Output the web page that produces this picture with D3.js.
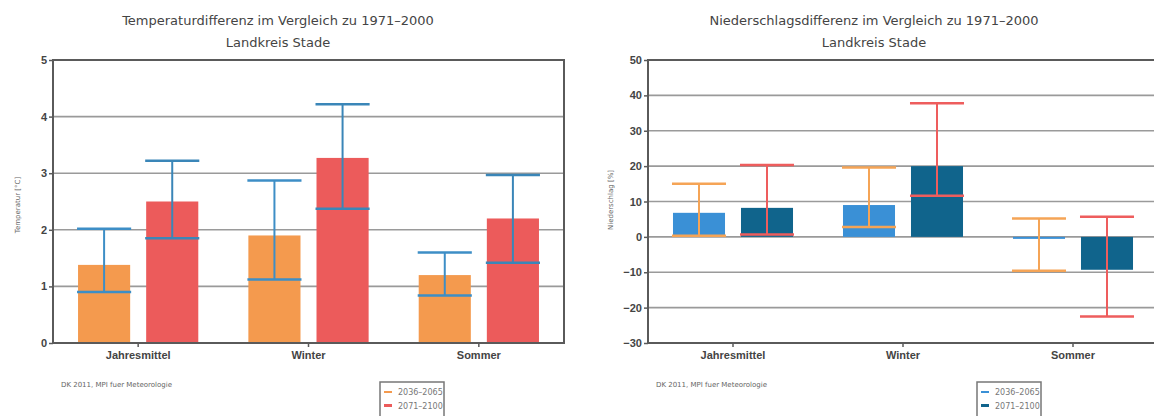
<!DOCTYPE html>
<html>

<head>
  <meta charset="utf-8">
  <script src="https://d3js.org/d3.v7.min.js"></script>
  <style>
    body {
      margin: 0;
      background: #fff;
      font-family: "DejaVu Sans", sans-serif;
    }

    .title {
      font-size: 13px;
      fill: #444;
    }

    .tick text {
      font-size: 11px;
      font-weight: bold;
      fill: #444;
    }

    .small {
      font-size: 7px;
      fill: #666;
    }

    .legend text {
      font-size: 8px;
      fill: #777;
    }
  </style>
</head>

<body>
  <div id="chart"></div>
  <script>
    var categories = ["Jahresmittel", "Winter", "Sommer"];
    var periods = ["2036–2065", "2071–2100"];

    // Temperature difference [°C]
    var tempMean2036 = [1.38, 1.9, 1.2];
    var tempLow2036 = [0.9, 1.12, 0.84];
    var tempHigh2036 = [2.02, 2.87, 1.6];
    var tempMean2071 = [2.5, 3.27, 2.2];
    var tempLow2071 = [1.85, 2.37, 1.42];
    var tempHigh2071 = [3.22, 4.22, 2.97];
    var tempTicks = [0, 1, 2, 3, 4, 5];

    // Precipitation difference [%]
    var precMean2036 = [6.8, 9, -0.4];
    var precLow2036 = [0.3, 2.8, -9.6];
    var precHigh2036 = [15, 19.6, 5.2];
    var precMean2071 = [8.2, 20, -9.3];
    var precLow2071 = [0.7, 11.6, -22.5];
    var precHigh2071 = [20.3, 37.8, 5.7];
    var precTicks = [-30, -20, -10, 0, 10, 20, 30, 40, 50];

    var svg = d3.select("#chart").append("svg")
      .attr("width", 1154)
      .attr("height", 416);

    function rows(mean, low, high) {
      return categories.map((c, i) => ({ cat: c, mean: mean[i], low: low[i], high: high[i] }));
    }

    function drawChart(opts) {
      var g = svg.append("g");
      var x = d3.scaleBand().domain(categories).range([opts.left, opts.right]);
      var bw = x.bandwidth();
      var xs = d3.scaleBand().domain(periods)
        .range([bw / 2 - bw * 0.353, bw / 2 + bw * 0.353])
        .paddingInner(0.235);
      var y = d3.scaleLinear().domain(opts.domain).range([343, 60]);

      // titles
      opts.title.forEach((t, i) => {
        g.append("text").attr("class", "title")
          .attr("x", opts.titleX).attr("y", 25 + i * 22)
          .attr("text-anchor", "middle").text(t);
      });

      // grid
      g.append("g").selectAll("line").data(opts.ticks).join("line")
        .attr("x1", opts.left).attr("x2", opts.right)
        .attr("y1", d => y(d)).attr("y2", d => y(d))
        .attr("stroke", "#9a9a9a").attr("stroke-width", 1.6);

      // bars and whiskers
      opts.series.forEach((s, si) => {
        var data = s.data;
        var sg = g.append("g");
        sg.selectAll("rect").data(data).join("rect")
          .attr("x", d => x(d.cat) + xs(periods[si]))
          .attr("width", xs.bandwidth())
          .attr("y", d => Math.min(y(d.mean), y(0)))
          .attr("height", d => Math.max(Math.abs(y(d.mean) - y(0)), 2))
          .attr("fill", s.fill);
        var cx = d => x(d.cat) + xs(periods[si]) + xs.bandwidth() / 2;
        var hw = xs.bandwidth() / 2 + 1;
        sg.selectAll(".stem").data(data).join("line").attr("class", "stem")
          .attr("x1", cx).attr("x2", cx)
          .attr("y1", d => y(d.low)).attr("y2", d => y(d.high))
          .attr("stroke", s.err).attr("stroke-width", 2);
        ["low", "high"].forEach(k => {
          sg.selectAll(".cap-" + k).data(data).join("line").attr("class", "cap-" + k)
            .attr("x1", d => cx(d) - hw).attr("x2", d => cx(d) + hw)
            .attr("y1", d => y(d[k])).attr("y2", d => y(d[k]))
            .attr("stroke", s.err).attr("stroke-width", 2.5);
        });
      });

      // frame
      g.append("rect")
        .attr("x", opts.left).attr("y", 60)
        .attr("width", opts.right - opts.left).attr("height", 283)
        .attr("fill", "none").attr("stroke", "#5a5a5a").attr("stroke-width", 2);

      // axes
      var ya = g.append("g").attr("transform", "translate(" + opts.left + ",0)")
        .call(d3.axisLeft(y).tickValues(opts.ticks).tickSize(4).tickPadding(2).tickFormat(d3.format("d")));
      ya.select(".domain").remove();
      ya.selectAll(".tick line").attr("stroke", "#5a5a5a").attr("stroke-width", 1.5);

      var xa = g.append("g").attr("transform", "translate(0,343)")
        .call(d3.axisBottom(x).tickSize(4).tickPadding(4));
      xa.select(".domain").remove();
      xa.selectAll(".tick line").attr("stroke", "#5a5a5a").attr("stroke-width", 1.5);

      // y label
      g.append("text").attr("class", "small")
        .attr("transform", "translate(" + opts.yLabelX + "," + opts.yLabelY + ") rotate(-90)")
        .attr("text-anchor", "middle").text(opts.yLabel);

      // source note
      g.append("text").attr("class", "small")
        .attr("x", opts.left + 8).attr("y", 387).text("DK 2011, MPI fuer Meteorologie");

      // legend
      var lg = g.append("g").attr("class", "legend")
        .attr("transform", "translate(" + opts.legendX + ",382)");
      lg.append("rect").attr("width", 64).attr("height", 40)
        .attr("fill", "#fff").attr("stroke", "#777").attr("stroke-width", 1.5);
      opts.series.forEach((s, i) => {
        lg.append("rect").attr("x", 4).attr("y", 11 + i * 14 - (i ? 3 : 2))
          .attr("width", 8).attr("height", i ? 3 : 2).attr("fill", s.fill);
        lg.append("text").attr("x", 18).attr("y", 13 + i * 14).text(periods[i]);
      });
    }

    drawChart({
      left: 53, right: 564, titleX: 278,
      domain: [0, 5], ticks: tempTicks,
      title: ["Temperaturdifferenz im Vergleich zu 1971–2000", "Landkreis Stade"],
      yLabel: "Temperatur [°C]", yLabelX: 20, yLabelY: 205,
      legendX: 380,
      series: [
        { data: rows(tempMean2036, tempLow2036, tempHigh2036), fill: "#f49a4e", err: "#3d8ec6" },
        { data: rows(tempMean2071, tempLow2071, tempHigh2071), fill: "#ec5b5b", err: "#3a86b8" }
      ]
    });

    drawChart({
      left: 648, right: 1158, titleX: 874,
      domain: [-30, 50], ticks: precTicks,
      title: ["Niederschlagsdifferenz im Vergleich zu 1971–2000", "Landkreis Stade"],
      yLabel: "Niederschlag [%]", yLabelX: 613, yLabelY: 200,
      legendX: 977,
      series: [
        { data: rows(precMean2036, precLow2036, precHigh2036), fill: "#3a90d6", err: "#f5a456" },
        { data: rows(precMean2071, precLow2071, precHigh2071), fill: "#10648c", err: "#ee5d5d" }
      ]
    });
  </script>
</body>

</html>
